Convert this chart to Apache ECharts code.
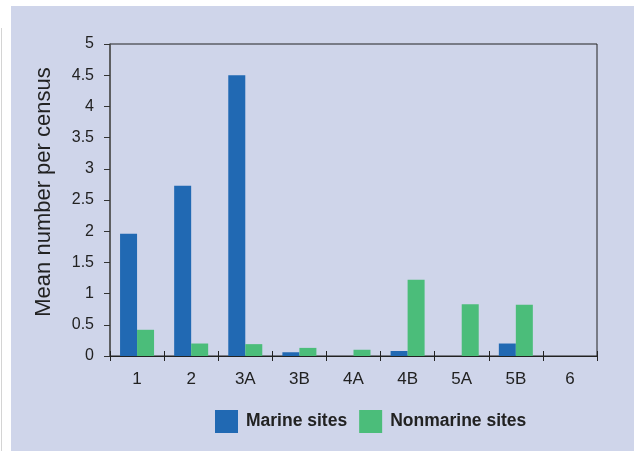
<!DOCTYPE html>
<html>
<head>
<meta charset="utf-8">
<script src="https://cdn.jsdelivr.net/npm/echarts@6/dist/echarts.min.js"></script>
<style>
  html, body { margin: 0; padding: 0; background: #fff; }
  #chart { width: 634px; height: 451px; }
</style>
</head>
<body>
<div id="chart"></div>
<script>
// census groups along the x axis
const categories = ['1', '2', '3A', '3B', '4A', '4B', '5A', '5B', '6']
// mean number per census
const marine = [1.96, 2.73, 4.5, 0.06, 0, 0.08, 0, 0.2, 0]
const nonmarine = [0.42, 0.2, 0.19, 0.13, 0.1, 1.22, 0.83, 0.82, 0]

const chart = echarts.init(document.getElementById('chart'), null, { renderer: 'canvas' })

const fontFamily = '"Liberation Sans", Arial, sans-serif'

const option = {
  animation: false,
  textStyle: { fontFamily: fontFamily },
  graphic: [
    // lavender panel behind the figure
    { type: 'rect', z: -10, shape: { x: 11, y: 6, width: 623, height: 445 }, style: { fill: '#cfd5ea' } },
    { type: 'rect', z: -10, shape: { x: 1, y: 28, width: 1, height: 423 }, style: { fill: '#d4d4d4' } }
  ],
  grid: {
    left: 110, top: 44, right: 37, bottom: 95,
    show: true, borderColor: '#222', borderWidth: 1, backgroundColor: 'transparent'
  },
  legend: {
    left: 215, top: 410, padding: 0,
    itemWidth: 23, itemHeight: 23, itemGap: 12,
    icon: 'rect',
    textStyle: { fontSize: 17.5, fontWeight: 'bold', color: '#222', fontFamily: fontFamily, padding: [0, 0, 0, 3] },
    data: ['Marine sites', 'Nonmarine sites']
  },
  xAxis: [
    {
      type: 'category',
      data: categories,
      axisLine: { lineStyle: { color: '#222', width: 1 } },
      axisTick: { show: true, length: 5, lineStyle: { color: '#222' } },
      axisLabel: { fontSize: 17, color: '#222', margin: 15 },
      splitLine: { show: false }
    },
    {
      type: 'category',
      data: categories,
      position: 'bottom',
      axisLine: { show: false },
      axisTick: { show: true, inside: true, length: 5, lineStyle: { color: '#222' } },
      axisLabel: { show: false },
      splitLine: { show: false }
    }
  ],
  yAxis: {
    type: 'value',
    min: 0, max: 5, interval: 0.5,
    name: 'Mean number per census',
    nameLocation: 'middle',
    nameGap: 55,
    nameTextStyle: { fontSize: 22, color: '#222', fontFamily: fontFamily, padding: [0, 0, 0, 16] },
    axisLine: { show: true, lineStyle: { color: '#555', width: 1.5 } },
    axisTick: { show: true, length: 6, lineStyle: { color: '#333' } },
    axisLabel: { fontSize: 16, color: '#222', margin: 16 },
    splitLine: { show: false }
  },
  series: [
    {
      name: 'Marine sites',
      type: 'bar',
      data: marine,
      barWidth: 17,
      barGap: '0%',
      itemStyle: { color: '#2169b3' }
    },
    {
      name: 'Nonmarine sites',
      type: 'bar',
      data: nonmarine,
      barWidth: 17,
      itemStyle: { color: '#4bbd7a' }
    }
  ]
}

chart.setOption(option)
</script>
</body>
</html>
